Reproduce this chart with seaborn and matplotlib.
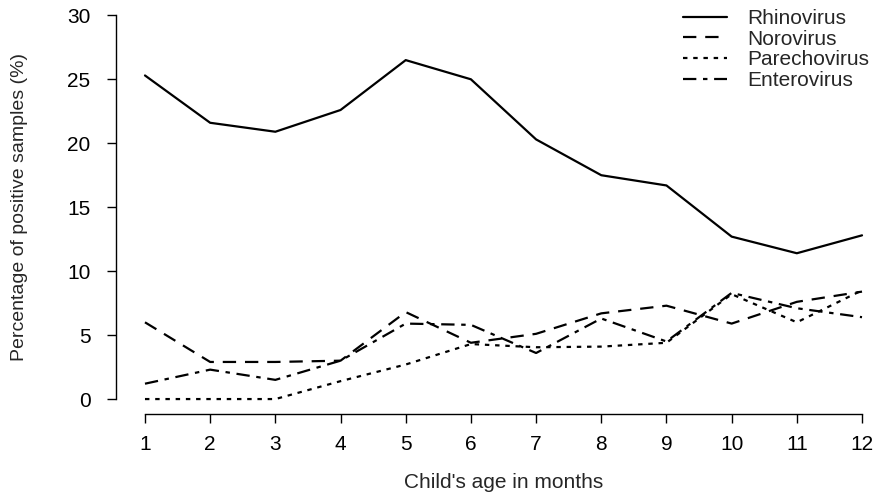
import pandas as pd
import matplotlib
matplotlib.use("Agg")
import matplotlib.pyplot as plt
import seaborn as sns

# Valores (percentual de amostras positivas por mês)
months = [1, 2, 3, 4, 5, 6, 7, 8, 9, 10, 11, 12]
rhinovirus = [25.3, 21.6, 20.9, 22.6, 26.5, 25.0, 20.3, 17.5, 16.7, 12.7, 11.4, 12.8]
norovirus = [6.0, 2.9, 2.9, 3.0, 6.8, 4.4, 5.1, 6.7, 7.3, 5.9, 7.6, 8.4]
parechovirus = [0.0, 0.0, 0.0, 1.4, 2.7, 4.3, 4.05, 4.1, 4.4, 8.2, 6.0, 8.5]
enterovirus = [1.2, 2.3, 1.5, 3.0, 5.9, 5.8, 3.6, 6.3, 4.5, 8.3, 7.1, 6.4]

viruses = ["Rhinovirus", "Norovirus", "Parechovirus", "Enterovirus"]
y_ticks = [0, 5, 10, 15, 20, 25, 30]

df = pd.DataFrame({
    "month": months * 4,
    "pct": rhinovirus + norovirus + parechovirus + enterovirus,
    "virus": [v for v in viruses for _ in months],
})

sns.set_style("white")
plt.rcParams["font.family"] = ["Liberation Sans", "DejaVu Sans"]

fig = plt.figure(figsize=(8.83, 4.97), dpi=100)
ax = fig.add_axes([116.3 / 883, 1 - 414.4 / 497, 774.4 / 883, 414.4 / 497])

# Padrões de traço parecidos com os lty do R
dash_map = {
    "Rhinovirus": "",
    "Norovirus": (6, 4),
    "Parechovirus": (2, 2.6),
    "Enterovirus": (6, 3, 2, 3),
}

sns.lineplot(data=df, x="month", y="pct", style="virus", style_order=viruses,
             dashes=dash_map, color="black", linewidth=1.6, ax=ax)

ax.set_xlim(0.56, 12.44)
ax.set_ylim(-1.2, 31.2)
ax.set_xticks(months)
ax.set_yticks(y_ticks)

for s in ["top", "right"]:
    ax.spines[s].set_visible(False)
ax.spines["left"].set_bounds(0, 30)
ax.spines["bottom"].set_bounds(1, 12)
for s in ["left", "bottom"]:
    ax.spines[s].set_color("black")
    ax.spines[s].set_linewidth(1.0)

fs = 15
ax.tick_params(axis="both", direction="out", length=6.5, width=1.0,
               color="black", labelsize=fs, labelcolor="black",
               bottom=True, left=True)
ax.tick_params(axis="x", pad=8)
ax.tick_params(axis="y", pad=12)

ax.set_xlabel("Child's age in months", fontsize=fs, labelpad=14)
ax.set_ylabel("Percentage of positive samples (%)", fontsize=14, labelpad=28)

handles, labels = ax.get_legend_handles_labels()
ax.legend(handles, labels, loc="upper left", frameon=False,
          bbox_to_anchor=(683 / 883, 1 - 9 / 497), bbox_transform=fig.transFigure,
          fontsize=fs, handlelength=2.1, handletextpad=1.0,
          labelspacing=0.08, borderpad=0, borderaxespad=0)

fig.savefig("out.png", dpi=100)
